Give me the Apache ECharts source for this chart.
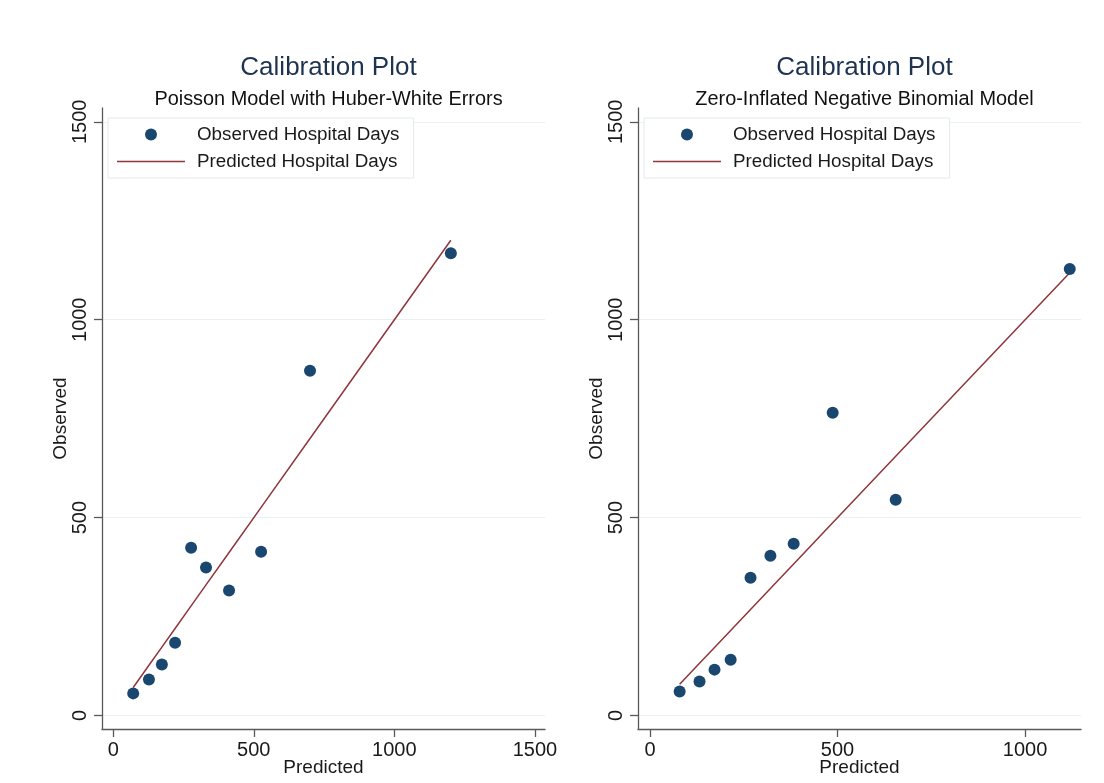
<!DOCTYPE html>
<html>
<head>
<meta charset="utf-8">
<script src="https://cdn.jsdelivr.net/npm/echarts@6/dist/echarts.min.js"></script>
<style>
html,body{margin:0;padding:0;background:#fff;}
#c{width:1104px;height:783px;}
</style>
</head>
<body>
<div id="c"></div>
<script>
// ---- data ----
const leftPredicted  = [71, 127, 173, 220, 277, 330, 412, 526, 700, 1201];
const leftObserved   = [56, 91, 129, 184, 424, 374, 316, 414, 871, 1168];
const rightPredicted = [79, 132, 172, 215, 268, 321, 383, 487, 655, 1119];
const rightObserved  = [61, 86, 116, 141, 348, 404, 434, 765, 545, 1128];
const yTicks = [0, 500, 1000, 1500];
const leftXTicks = [0, 500, 1000, 1500];
const rightXTicks = [0, 500, 1000];
const titles = ['Calibration Plot', 'Calibration Plot'];
const subtitles = ['Poisson Model with Huber-White Errors', 'Zero-Inflated Negative Binomial Model'];
const legendNames = ['Observed Hospital Days', 'Predicted Hospital Days'];

const FONT = 'Liberation Sans, Arial, sans-serif';
const NAVY = '#1a476f';
const MAROON = '#90353b';
const GRID = '#e9f1f2';
const AXIS = '#5a5a5a';
const TXT = '#1a1a1a';

const grids = [
  {left: 102, top: 108, width: 443, height: 621, outerBoundsMode: 'none', containLabel: false},
  {left: 638, top: 108, width: 443, height: 621, outerBoundsMode: 'none', containLabel: false}
];
const xRanges = [[-40, 1536], [-32, 1149]];
const yRange = [-34, 1535];
const plain = v => String(v);

function xAxisFor(i, ticks) {
  return {
    type: 'value', gridIndex: i, min: xRanges[i][0], max: xRanges[i][1],
    name: 'Predicted', nameLocation: 'middle', nameGap: 29, nameMoveOverlap: false,
    nameTextStyle: {fontFamily: FONT, fontSize: 19, color: TXT},
    axisLine: {show: true, onZero: false, lineStyle: {color: AXIS, width: 1.3}},
    axisTick: {show: true, length: 8, customValues: ticks, lineStyle: {color: AXIS, width: 1.3}},
    axisLabel: {customValues: ticks, formatter: plain, fontFamily: FONT, fontSize: 20, color: TXT, margin: 11},
    splitLine: {show: false}
  };
}
function yAxisFor(i) {
  return {
    type: 'value', gridIndex: i, min: yRange[0], max: yRange[1],
    name: 'Observed', nameLocation: 'middle', nameGap: 32, nameMoveOverlap: false,
    nameTextStyle: {fontFamily: FONT, fontSize: 19, color: TXT},
    axisLine: {show: true, onZero: false, lineStyle: {color: AXIS, width: 1.3}},
    axisTick: {show: true, length: 8, customValues: yTicks, lineStyle: {color: AXIS, width: 1.3}},
    axisLabel: {customValues: yTicks, formatter: plain, rotate: 90, fontFamily: FONT, fontSize: 20, color: TXT, margin: 12},
    splitLine: {show: false}
  };
}
function seriesFor(i, pred, obs) {
  return [
    {
      name: 'gridlines', type: 'line', xAxisIndex: i, yAxisIndex: i,
      data: [], symbol: 'none', z: 0, silent: true,
      markLine: {
        silent: true, symbol: 'none', label: {show: false}, z: 0,
        lineStyle: {color: GRID, width: 1, type: 'solid'},
        data: yTicks.map(v => ({yAxis: v}))
      }
    },
    {
      name: legendNames[1], type: 'line', xAxisIndex: i, yAxisIndex: i,
      data: pred.map(v => [v, v]), symbol: 'none', showSymbol: false, z: 2,
      lineStyle: {color: MAROON, width: 1.5}, itemStyle: {color: MAROON}
    },
    {
      name: legendNames[0], type: 'scatter', xAxisIndex: i, yAxisIndex: i,
      data: pred.map((v, k) => [v, obs[k]]), symbol: 'circle', symbolSize: 12, z: 3,
      itemStyle: {color: NAVY, opacity: 1}
    }
  ];
}
function legendFor(i) {
  return {
    orient: 'vertical', left: grids[i].left + 6, top: 118,
    data: [
      {name: legendNames[0], icon: 'circle'},
      {name: legendNames[1], icon: 'path://M0,0 L68,0 L68,1.6 L0,1.6 Z', itemStyle: {color: MAROON}}
    ],
    itemWidth: 68, itemHeight: 12, itemGap: 8,
    padding: [7, 14, 7, 9],
    backgroundColor: '#fff', borderColor: '#e3eaec', borderWidth: 1,
    textStyle: {fontFamily: FONT, fontSize: 18.8, color: TXT, padding: [0, 0, 0, 7]},
    selectedMode: false
  };
}

const chart = echarts.init(document.getElementById('c'), null, {renderer: 'canvas'});
chart.setOption({
  backgroundColor: '#fff',
  animation: false,
  title: [0, 1].flatMap(i => [
    {text: titles[i], left: grids[i].left + grids[i].width / 2, textAlign: 'center', top: 50,
     textStyle: {fontFamily: FONT, fontSize: 26, fontWeight: 'normal', color: '#1e3350'}},
    {text: subtitles[i], left: grids[i].left + grids[i].width / 2, textAlign: 'center', top: 85,
     textStyle: {fontFamily: FONT, fontSize: 19.9, fontWeight: 'normal', color: '#111'}}
  ]),
  legend: [legendFor(0), legendFor(1)],
  grid: grids,
  xAxis: [xAxisFor(0, leftXTicks), xAxisFor(1, rightXTicks)],
  yAxis: [yAxisFor(0), yAxisFor(1)],
  series: [...seriesFor(0, leftPredicted, leftObserved), ...seriesFor(1, rightPredicted, rightObserved)]
});
</script>
</body>
</html>
